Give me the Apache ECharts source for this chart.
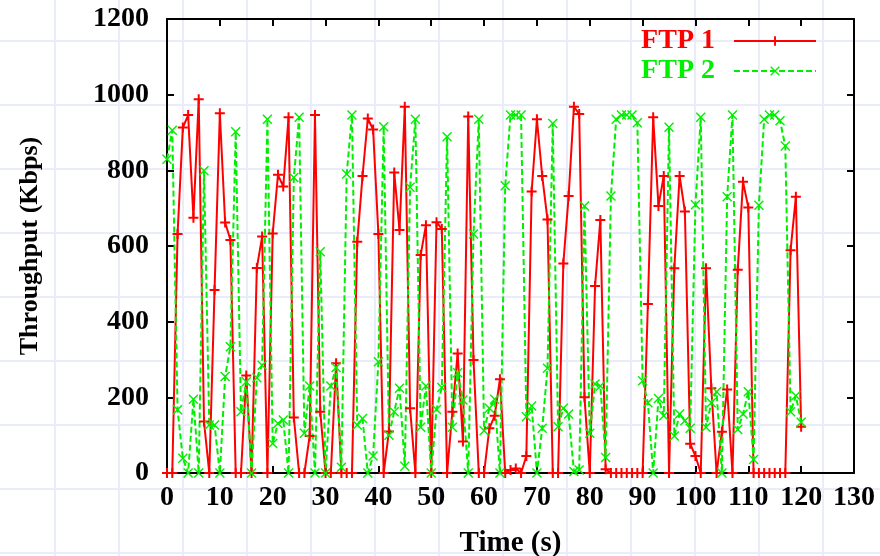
<!DOCTYPE html>
<html>
<head>
<meta charset="utf-8">
<script src="https://cdn.jsdelivr.net/npm/echarts@6/dist/echarts.min.js"></script>
<style>
html,body{margin:0;padding:0;}
body{
  width:880px;height:556px;background-color:#ffffff;
  background-image:
    linear-gradient(to right, #e9edfb 0, #e9edfb 2px, transparent 2px),
    linear-gradient(to bottom, #e9edfb 0, #e9edfb 2px, transparent 2px);
  background-size:64px 64px;
  background-position:54px 40px;
}
#chart{width:880px;height:556px;}
</style>
</head>
<body>
<div id="chart"></div>
<script>
// Sample times are one per second starting at 0 s
const sampleStart = 0;
const sampleStep = 1;

const seriesNames = ['FTP 1', 'FTP 2'];

// FTP 1 throughput (Kbps), one value per second
const ftp1 = [
  0, 0, 632, 913, 946, 675, 988, 136, 0, 484,
  951, 662, 616, 0, 0, 258, 0, 542, 625, 0,
  633, 788, 757, 940, 147, 0, 0, 98, 946, 162,
  0, 0, 290, 0, 0, 0, 611, 785, 937, 908,
  632, 0, 110, 794, 642, 968, 171, 0, 576, 655,
  0, 663, 645, 0, 162, 316, 83, 942, 299, 0,
  0, 118, 151, 248, 0, 8, 12, 0, 45, 744,
  935, 785, 670, 0, 0, 554, 732, 968, 949, 200,
  0, 494, 669, 10, 0, 0, 0, 0, 0, 0,
  0, 447, 940, 706, 785, 0, 541, 785, 691, 77,
  45, 0, 541, 224, 0, 109, 221, 0, 537, 770,
  702, 0, 0, 0, 0, 0, 0, 0, 589, 730,
  122
];

// FTP 2 throughput (Kbps), one value per second
const ftp2 = [
  829, 906, 167, 39, 0, 195, 0, 799, 127, 127,
  0, 255, 334, 902, 162, 241, 0, 252, 285, 935,
  78, 131, 140, 0, 781, 940, 105, 230, 0, 585,
  0, 230, 279, 15, 790, 946, 127, 144, 0, 45,
  294, 915, 100, 162, 224, 18, 755, 935, 121, 230,
  0, 168, 226, 889, 121, 265, 193, 0, 632, 935,
  112, 171, 195, 0, 759, 946, 946, 946, 149, 177,
  0, 118, 277, 924, 122, 171, 156, 4, 8, 706,
  105, 235, 230, 41, 732, 935, 946, 946, 946, 926,
  244, 186, 0, 197, 151, 914, 98, 156, 138, 118,
  709, 940, 121, 186, 215, 0, 730, 946, 115, 156,
  215, 36, 708, 935, 946, 946, 931, 864, 162, 204,
  134
];

const xMin = 0, xMax = 130, xStep = 10;
const yMin = 0, yMax = 1200, yStep = 200;

function toPairs(vals){
  return vals.map((v, i) => [sampleStart + i * sampleStep, v]);
}

const FONT = 'Liberation Serif';
const RED = '#ff0000';
const GREEN = '#00ee00';
const PLUS = 'path://M4,0H6V4H10V6H6V10H4V6H0V4H4Z';
const CROSS = 'path://M0,1L1,0L5,4L9,0L10,1L6,5L10,9L9,10L5,6L1,10L0,9L4,5Z';

const axisCommon = {
  axisLine: {show: true, onZero: false, lineStyle: {color: '#000', width: 2}},
  axisTick: {show: true, inside: true, length: 7, lineStyle: {color: '#000', width: 2}},
  splitLine: {show: false}
};
const plain = v => String(v);

const chart = echarts.init(document.getElementById('chart'), null, {renderer: 'canvas'});
chart.setOption({
  animation: false,
  backgroundColor: 'transparent',
  grid: {left: 167, right: 26, top: 19, bottom: 83, containLabel: false, outerBoundsMode: 'none'},
  legend: {
    orient: 'vertical',
    right: 63,
    top: 27,
    padding: 0,
    align: 'right',
    itemWidth: 82,
    itemHeight: 12,
    itemGap: 2,
    textStyle: {fontFamily: FONT, fontWeight: 'bold', fontSize: 28, lineHeight: 24, padding: [0, 14, 0, 0]},
    data: [
      {name: seriesNames[0], textStyle: {color: RED}},
      {name: seriesNames[1], textStyle: {color: GREEN}}
    ]
  },
  xAxis: [
    Object.assign({
      type: 'value', position: 'bottom', min: xMin, max: xMax, interval: xStep,
      name: 'Time (s)', nameLocation: 'middle', nameGap: 56,
      nameTextStyle: {fontFamily: FONT, fontWeight: 'bold', fontSize: 29, color: '#000'},
      axisLabel: {fontFamily: FONT, fontWeight: 'bold', fontSize: 28, color: '#000', margin: 11, formatter: plain}
    }, axisCommon),
    Object.assign({
      type: 'value', position: 'top', min: xMin, max: xMax, interval: xStep,
      axisLabel: {show: false}
    }, axisCommon)
  ],
  yAxis: [
    Object.assign({
      type: 'value', position: 'left', min: yMin, max: yMax, interval: yStep,
      name: 'Throughput (Kbps)', nameLocation: 'middle', nameGap: 124, nameRotate: 90,
      nameTextStyle: {fontFamily: FONT, fontWeight: 'bold', fontSize: 26, color: '#000'},
      axisLabel: {fontFamily: FONT, fontWeight: 'bold', fontSize: 28, color: '#000', margin: 18, formatter: plain}
    }, axisCommon),
    Object.assign({
      type: 'value', position: 'right', min: yMin, max: yMax, interval: yStep,
      axisLabel: {show: false}
    }, axisCommon)
  ],
  series: [
    {
      name: seriesNames[0], type: 'line', xAxisIndex: 0, yAxisIndex: 0,
      data: toPairs(ftp1),
      showAllSymbol: true,
      symbol: PLUS, symbolSize: 10,
      itemStyle: {color: RED},
      lineStyle: {color: RED, width: 2},
      emphasis: {disabled: true}
    },
    {
      name: seriesNames[1], type: 'line', xAxisIndex: 0, yAxisIndex: 0,
      data: toPairs(ftp2),
      showAllSymbol: true,
      symbol: CROSS, symbolSize: 10,
      itemStyle: {color: GREEN},
      lineStyle: {color: GREEN, width: 2, type: [6, 3]},
      emphasis: {disabled: true}
    }
  ]
});
</script>
</body>
</html>
